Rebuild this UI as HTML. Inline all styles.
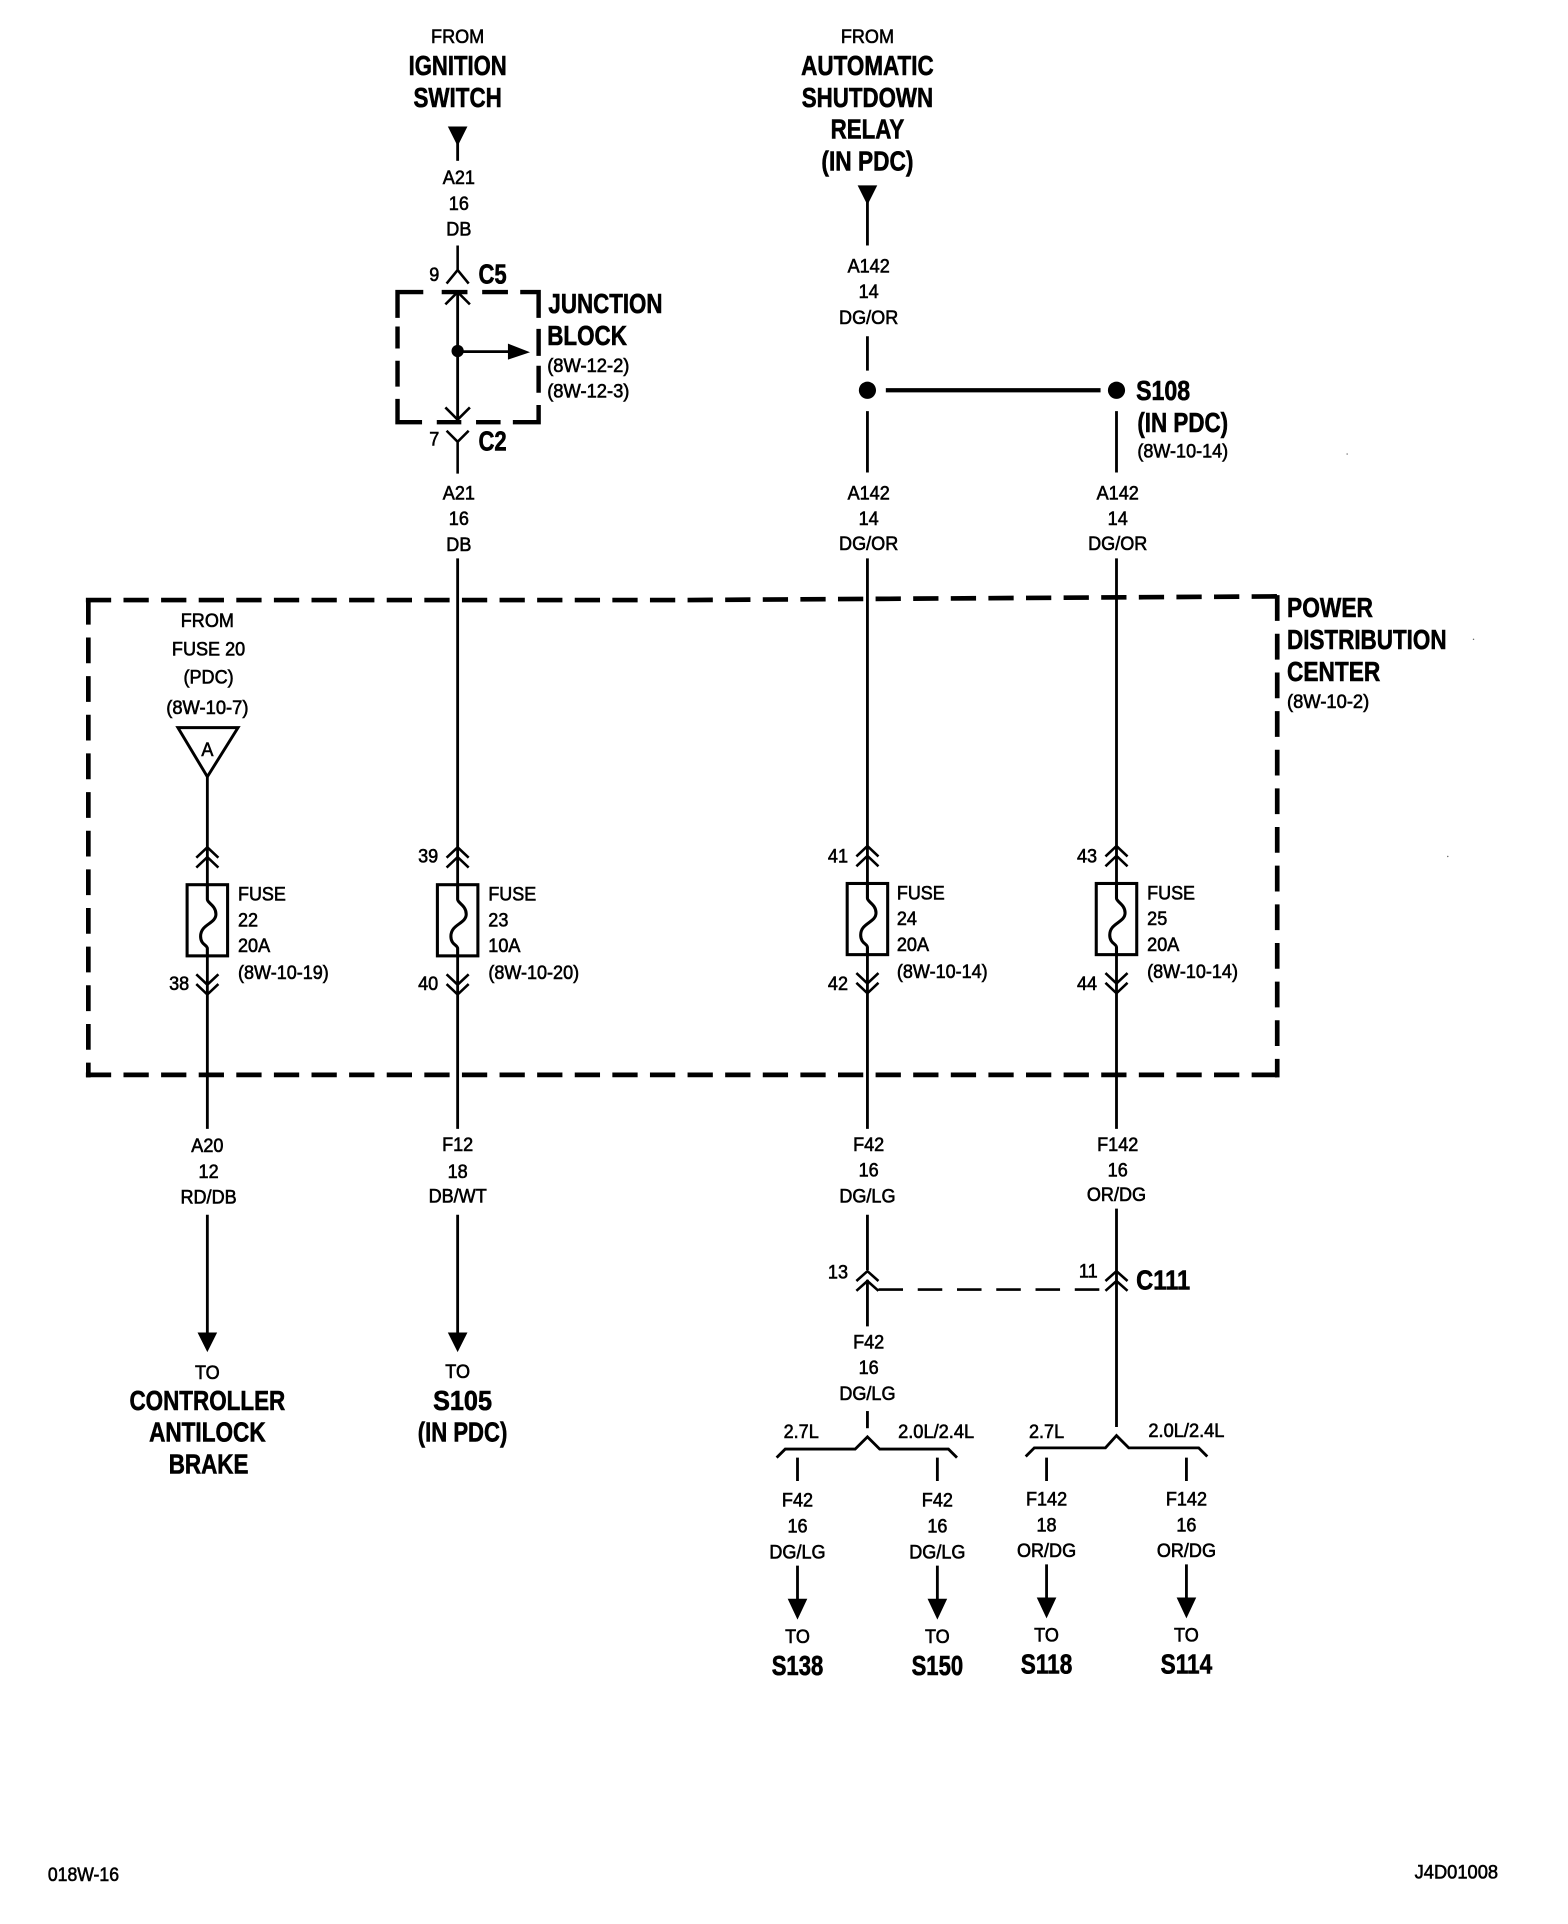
<!DOCTYPE html>
<html><head><meta charset="utf-8"><style>
html,body{margin:0;padding:0;background:#fff}
svg{display:block}
text{font-family:"Liberation Sans",sans-serif;fill:#000}
.r{font-size:16px;stroke:#000;stroke-width:.5;text-anchor:middle}
.l{font-size:16px;stroke:#000;stroke-width:.5}
.r:not([textLength]){transform-box:fill-box;transform-origin:center;transform:scaleX(.92)}
.l:not([textLength]){transform-box:fill-box;transform-origin:left center;transform:scaleX(.92)}
.b{font-size:23px;font-weight:bold;stroke:#000;stroke-width:.5;text-anchor:middle}
.bl{font-size:23px;font-weight:bold;stroke:#000;stroke-width:.5}
.w{fill:none;stroke:#000;stroke-width:2.3}
.c{fill:none;stroke:#000;stroke-width:2.1}
.d{fill:none;stroke:#000;stroke-width:3.8;stroke-dasharray:20.6 10.05}
.dv{fill:none;stroke:#000;stroke-width:3.8;stroke-dasharray:21 10.5}
.f{fill:none;stroke:#000;stroke-width:2.5}
</style></head><body>
<svg width="1568" height="1924" viewBox="0 0 1278 1568" xmlns="http://www.w3.org/2000/svg">
<rect width="1278" height="1568" fill="#fff"/>
<defs>
<g id="fuse">
<rect x="-16.500" y="721" width="33" height="58" class="f"/>
<path d="M0 721V733C0 736 7 738 7 745C7 753-5.500 753-5.500 763C-5.500 770 0 770 0 773V779" class="f"/>
<path d="M-9 699L0 690.500L9 699M-9 707L0 698.500L9 707" class="c"/>
<path d="M-9 794L0 802.500L9 794M-9 802L0 810.500L9 802" class="c"/>
</g>
</defs>

<!-- Top left feed -->
<text class="r" x="373" y="35">FROM</text>
<text class="b" x="373" y="61" textLength="80" lengthAdjust="spacingAndGlyphs">IGNITION</text>
<text class="b" x="373" y="87" textLength="72" lengthAdjust="spacingAndGlyphs">SWITCH</text>
<path d="M365 103H381L373 119Z"/><path d="M373 115V131" class="w"/>
<text class="r" x="374" y="150">A21</text><text class="r" x="374" y="171">16</text><text class="r" x="374" y="192">DB</text>
<path d="M373 200V220M364 231L373 220L382 231" class="c"/>
<text class="r" x="354" y="229">9</text>
<text class="bl" x="390" y="231" textLength="23" lengthAdjust="spacingAndGlyphs">C5</text>

<!-- Junction block -->
<path d="M324 259V238H345M360 238H381M393 238H414M424 238H439V259M439 268V290M439 298V320M439 330V344H418M408 344H388M376 344H356M344 344H324V325M324 315V294M324 284V266" fill="none" stroke="#000" stroke-width="3.6"/>
<path d="M373 238V342" class="w" stroke-width="2.5"/>
<path d="M363 248L373 238L383 248M363 332L373 342L383 332" class="c"/>
<circle cx="373" cy="286" r="5"/>
<path d="M373 286.500H416" class="w"/><path d="M414 280L432 287L414 293Z"/>
<path d="M364 351L373 360L382 351M373 360V386" class="c"/>
<text class="r" x="354" y="363">7</text>
<text class="bl" x="390" y="367" textLength="23" lengthAdjust="spacingAndGlyphs">C2</text>
<text class="bl" x="447" y="255" textLength="93" lengthAdjust="spacingAndGlyphs">JUNCTION</text>
<text class="bl" x="446" y="281" textLength="65" lengthAdjust="spacingAndGlyphs">BLOCK</text>
<text class="l" x="446" y="303" textLength="67" lengthAdjust="spacingAndGlyphs">(8W-12-2)</text>
<text class="l" x="446" y="324" textLength="67" lengthAdjust="spacingAndGlyphs">(8W-12-3)</text>
<text class="r" x="374" y="407">A21</text><text class="r" x="374" y="428">16</text><text class="r" x="374" y="449">DB</text>

<!-- Top right feed -->
<text class="r" x="707" y="35">FROM</text>
<text class="b" x="707" y="61" textLength="108" lengthAdjust="spacingAndGlyphs">AUTOMATIC</text>
<text class="b" x="707" y="87" textLength="107" lengthAdjust="spacingAndGlyphs">SHUTDOWN</text>
<text class="b" x="707" y="113" textLength="60" lengthAdjust="spacingAndGlyphs">RELAY</text>
<text class="b" x="707" y="139" textLength="75" lengthAdjust="spacingAndGlyphs">(IN PDC)</text>
<path d="M699 151H715L707 167Z"/><path d="M707 163V200" class="w"/>
<text class="r" x="708" y="222">A142</text><text class="r" x="708" y="243">14</text><text class="r" x="708" y="264">DG/OR</text>
<path d="M707 274V302M707 335V385M910 335V385" class="w"/>
<circle cx="707" cy="318" r="7"/><circle cx="910" cy="318" r="7"/>
<path d="M722 318H897" fill="none" stroke="#000" stroke-width="3.5"/>
<text class="bl" x="926" y="326" textLength="44" lengthAdjust="spacingAndGlyphs">S108</text>
<text class="bl" x="927" y="352" textLength="74" lengthAdjust="spacingAndGlyphs">(IN PDC)</text>
<text class="l" x="927" y="373" textLength="74" lengthAdjust="spacingAndGlyphs">(8W-10-14)</text>
<text class="r" x="708" y="407">A142</text><text class="r" x="708" y="428">14</text><text class="r" x="708" y="448">DG/OR</text>
<text class="r" x="911" y="407">A142</text><text class="r" x="911" y="428">14</text><text class="r" x="911" y="448">DG/OR</text>

<!-- PDC box -->
<path d="M70 489H556L1042 486" class="d"/>
<path d="M70 876H1042" class="d"/>
<path d="M72 488V878" class="dv"/>
<path d="M1041 485V878" class="dv"/>
<text class="bl" x="1049" y="503" textLength="70" lengthAdjust="spacingAndGlyphs">POWER</text>
<text class="bl" x="1049" y="529" textLength="130" lengthAdjust="spacingAndGlyphs">DISTRIBUTION</text>
<text class="bl" x="1049" y="555" textLength="76" lengthAdjust="spacingAndGlyphs">CENTER</text>
<text class="l" x="1049" y="577" textLength="67" lengthAdjust="spacingAndGlyphs">(8W-10-2)</text>

<!-- Column 1 -->
<text class="r" x="169" y="511">FROM</text>
<text class="r" x="170" y="534">FUSE 20</text>
<text class="r" x="170" y="557">(PDC)</text>
<text class="r" x="169" y="582" textLength="67" lengthAdjust="spacingAndGlyphs">(8W-10-7)</text>
<path d="M145 593H194L169 633Z" fill="none" stroke="#000" stroke-width="2.4"/>
<text class="r" x="169" y="616">A</text>
<path d="M169 633V722M169 779V920" class="w"/>
<use href="#fuse" x="169"/>
<text class="l" x="194" y="734" textLength="39" lengthAdjust="spacingAndGlyphs">FUSE</text>
<text class="l" x="194" y="755">22</text><text class="l" x="194" y="776">20A</text>
<text class="l" x="194" y="798" textLength="74" lengthAdjust="spacingAndGlyphs">(8W-10-19)</text>
<text class="r" x="146" y="807">38</text>
<text class="r" x="169" y="939">A20</text><text class="r" x="170" y="960">12</text><text class="r" x="170" y="981">RD/DB</text>
<path d="M169 990V1088" class="w"/><path d="M161 1086H177L169 1102Z"/>
<text class="r" x="169" y="1124">TO</text>
<text class="b" x="169" y="1149" textLength="127" lengthAdjust="spacingAndGlyphs">CONTROLLER</text>
<text class="b" x="169" y="1175" textLength="95" lengthAdjust="spacingAndGlyphs">ANTILOCK</text>
<text class="b" x="170" y="1201" textLength="65" lengthAdjust="spacingAndGlyphs">BRAKE</text>

<!-- Column 2 -->
<path d="M373 455V722M373 779V920" class="w"/>
<use href="#fuse" x="373"/>
<text class="r" x="349" y="703">39</text>
<text class="l" x="398" y="734" textLength="39" lengthAdjust="spacingAndGlyphs">FUSE</text>
<text class="l" x="398" y="755">23</text><text class="l" x="398" y="776">10A</text>
<text class="l" x="398" y="798" textLength="74" lengthAdjust="spacingAndGlyphs">(8W-10-20)</text>
<text class="r" x="349" y="807">40</text>
<text class="r" x="373" y="938">F12</text><text class="r" x="373" y="960">18</text><text class="r" x="373" y="980">DB/WT</text>
<path d="M373 990V1088" class="w"/><path d="M365 1086H381L373 1102Z"/>
<text class="r" x="373" y="1123">TO</text>
<text class="b" x="377" y="1149" textLength="48" lengthAdjust="spacingAndGlyphs">S105</text>
<text class="b" x="377" y="1175" textLength="73" lengthAdjust="spacingAndGlyphs">(IN PDC)</text>

<!-- Column 3 -->
<path d="M707 455V720M707 778V920" class="w"/>
<use href="#fuse" x="707" y="-1"/>
<text class="r" x="683" y="703">41</text>
<text class="l" x="731" y="733" textLength="39" lengthAdjust="spacingAndGlyphs">FUSE</text>
<text class="l" x="731" y="754">24</text><text class="l" x="731" y="775">20A</text>
<text class="l" x="731" y="797" textLength="74" lengthAdjust="spacingAndGlyphs">(8W-10-14)</text>
<text class="r" x="683" y="807">42</text>
<text class="r" x="708" y="938">F42</text><text class="r" x="708" y="959">16</text><text class="r" x="707" y="980">DG/LG</text>

<!-- Column 4 -->
<path d="M910 455V720M910 778V920" class="w"/>
<use href="#fuse" x="910" y="-1"/>
<text class="r" x="886" y="703">43</text>
<text class="l" x="935" y="733" textLength="39" lengthAdjust="spacingAndGlyphs">FUSE</text>
<text class="l" x="935" y="754">25</text><text class="l" x="935" y="775">20A</text>
<text class="l" x="935" y="797" textLength="74" lengthAdjust="spacingAndGlyphs">(8W-10-14)</text>
<text class="r" x="886" y="807">44</text>
<text class="r" x="911" y="938">F142</text><text class="r" x="911" y="959">16</text><text class="r" x="910" y="979">OR/DG</text>

<!-- C111 -->
<path d="M707 990V1035M707 1043V1081" class="w"/>
<path d="M698 1044L707 1036L716 1044M698 1052L707 1044L716 1052" class="c"/>
<path d="M910 985V1163" class="w"/>
<path d="M901 1044L910 1036L919 1044M901 1052L910 1044L919 1052" class="c"/>
<path d="M716 1051H901" fill="none" stroke="#000" stroke-width="2.2" stroke-dasharray="20 12"/>
<text class="r" x="683" y="1042">13</text><text class="r" x="887" y="1041">11</text>
<text class="bl" x="926" y="1051" textLength="44" lengthAdjust="spacingAndGlyphs">C111</text>

<!-- Left branch -->
<text class="r" x="708" y="1099">F42</text><text class="r" x="708" y="1120">16</text><text class="r" x="707" y="1141">DG/LG</text>
<path d="M707 1150V1164" class="w"/>
<path d="M633 1188L640 1181H697L707 1171L717 1181H773L780 1188" class="w"/>
<text class="r" x="653" y="1172">2.7L</text>
<text class="r" x="763" y="1172" textLength="62" lengthAdjust="spacingAndGlyphs">2.0L/2.4L</text>
<!-- Right branch -->
<path d="M836 1187L843 1180H901L910 1170L920 1180H977L984 1187" class="w"/>
<text class="r" x="853" y="1172">2.7L</text>
<text class="r" x="967" y="1171" textLength="62" lengthAdjust="spacingAndGlyphs">2.0L/2.4L</text>

<!-- Outputs -->
<path d="M650 1188V1207M764 1188V1207M853 1188V1207M967 1188V1207M650 1276V1306M764 1276V1306M853 1275V1305M967 1275V1305" class="w"/>
<path d="M642 1303H658L650 1320ZM756 1303H772L764 1320ZM845 1302H861L853 1319ZM959 1302H975L967 1319Z"/>
<text class="r" x="650" y="1228">F42</text><text class="r" x="650" y="1249">16</text><text class="r" x="650" y="1270">DG/LG</text>
<text class="r" x="764" y="1228">F42</text><text class="r" x="764" y="1249">16</text><text class="r" x="764" y="1270">DG/LG</text>
<text class="r" x="853" y="1227">F142</text><text class="r" x="853" y="1248">18</text><text class="r" x="853" y="1269">OR/DG</text>
<text class="r" x="967" y="1227">F142</text><text class="r" x="967" y="1248">16</text><text class="r" x="967" y="1269">OR/DG</text>
<text class="r" x="650" y="1339">TO</text><text class="r" x="764" y="1339">TO</text><text class="r" x="853" y="1338">TO</text><text class="r" x="967" y="1338">TO</text>
<text class="b" x="650" y="1365" textLength="42" lengthAdjust="spacingAndGlyphs">S138</text>
<text class="b" x="764" y="1365" textLength="42" lengthAdjust="spacingAndGlyphs">S150</text>
<text class="b" x="853" y="1364" textLength="42" lengthAdjust="spacingAndGlyphs">S118</text>
<text class="b" x="967" y="1364" textLength="42" lengthAdjust="spacingAndGlyphs">S114</text>

<!-- Footer -->
<text class="l" x="39" y="1533" textLength="58" lengthAdjust="spacingAndGlyphs">018W-16</text>
<text class="l" x="1153" y="1531" textLength="68" lengthAdjust="spacingAndGlyphs">J4D01008</text>
<circle cx="1098" cy="370" r=".6" fill="#666"/><circle cx="1180" cy="698" r=".6" fill="#666"/><circle cx="1201" cy="521" r=".6" fill="#666"/>
</svg>
</body></html>
